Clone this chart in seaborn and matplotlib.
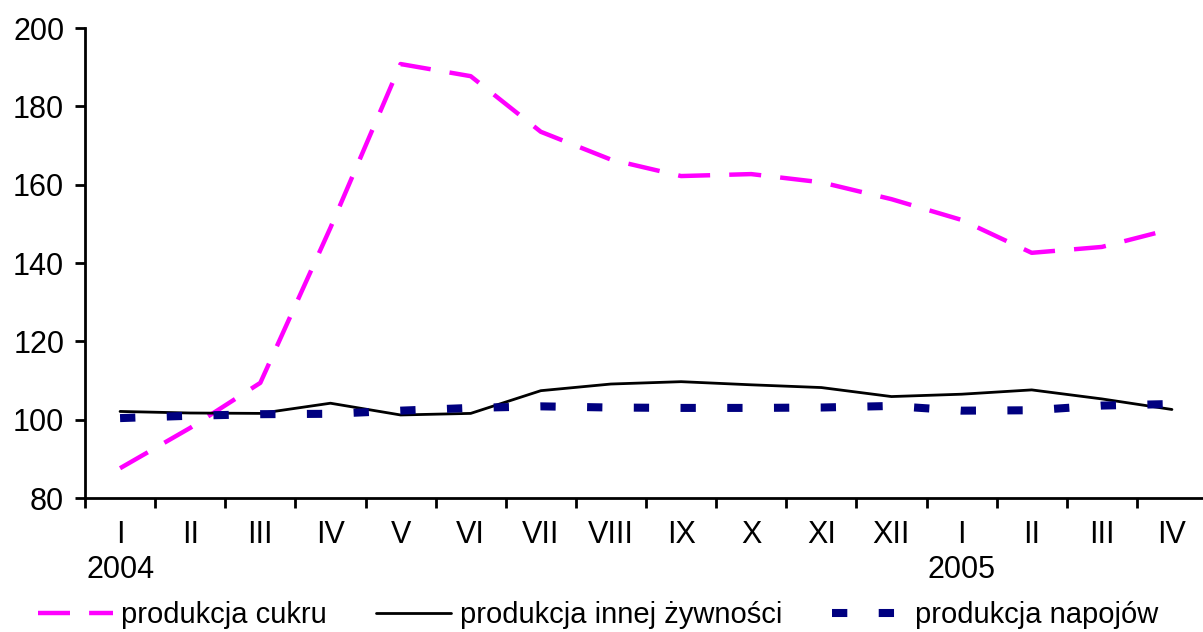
import numpy as np
import matplotlib
matplotlib.use("Agg")
import matplotlib.pyplot as plt
import seaborn as sns

# dane
miesiace = ["I", "II", "III", "IV", "V", "VI", "VII", "VIII", "IX", "X", "XI", "XII",
            "I", "II", "III", "IV"]
lata = {0: "2004", 12: "2005"}

cukier = [87.6, 97.9, 109.4, 149.0, 190.8, 187.7, 173.5, 166.4, 162.2, 162.7,
          160.6, 156.3, 151.0, 142.6, 144.1, 148.7]
inna_zywnosc = [102.1, 101.7, 101.6, 104.2, 101.2, 101.6, 107.4, 109.1, 109.7, 108.9,
                108.2, 105.9, 106.5, 107.6, 105.3, 102.6]
napoje = [100.4, 101.0, 101.4, 101.5, 102.3, 103.0, 103.4, 103.1, 103.0, 103.0,
          103.1, 103.5, 102.3, 102.4, 103.6, 104.0]

etykiety = ["produkcja cukru", "produkcja innej żywności", "produkcja napojów"]

# ==============================================================================
# STYL
# ==============================================================================
sns.set_style("ticks")
plt.rcParams["font.family"] = ["Liberation Sans", "DejaVu Sans"]
plt.rcParams["font.size"] = 22
plt.rcParams["text.color"] = "black"
plt.rcParams["xtick.color"] = "black"
plt.rcParams["ytick.color"] = "black"

fig = plt.figure(figsize=(12.03, 6.32), dpi=100)
ax = fig.add_axes([85 / 1203, 1 - 498 / 632, (1207 - 85) / 1203, (498 - 28) / 632])

x = np.arange(len(miesiace))

sns.lineplot(x=x, y=cukier, color="#FF00FF", lw=3.2, label=etykiety[0], ax=ax)
ax.lines[-1].set_dashes((7.2, 4.3))
sns.lineplot(x=x, y=inna_zywnosc, color="black", lw=2.0, label=etykiety[1], ax=ax)
sns.lineplot(x=x, y=napoje, color="#000080", lw=5.8, label=etykiety[2], ax=ax)
ax.lines[-1].set_dashes((1.9, 3.9))

# osie
ax.set_ylim(80, 200)
ax.set_yticks(np.arange(80, 201, 20))
ax.set_xlim(-0.5, len(miesiace) - 0.5)
ax.set_xticks(np.arange(-0.5, len(miesiace), 1.0))
ax.set_xticklabels([])
ax.set_xticks(x, minor=True)
ax.set_xticklabels([m + ("\n" + lata[i] if i in lata else "") for i, m in enumerate(miesiace)],
                   minor=True, linespacing=1.2, va="top")
ax.tick_params(axis="x", which="minor", length=0, pad=16, labelsize=22)
ax.tick_params(axis="x", which="major", length=7, width=2, direction="out")
ax.tick_params(axis="y", length=7, width=2, pad=8, direction="out", labelsize=22)
ax.set_xlabel("")
ax.set_ylabel("")

sns.despine(ax=ax)
for s in ["left", "bottom"]:
    ax.spines[s].set_linewidth(2)
    ax.spines[s].set_color("black")

# legenda pod wykresem
ax.get_legend().remove()
uchwyty, teksty = ax.get_legend_handles_labels()
fig.legend(uchwyty, teksty, loc="center left", bbox_to_anchor=(38 / 1203, 0.027),
           ncol=3, frameon=False, handlelength=2.57, handletextpad=0.28,
           columnspacing=1.7, borderpad=0, borderaxespad=0, fontsize=21)

fig.savefig("out.png", dpi=100, facecolor="white")
